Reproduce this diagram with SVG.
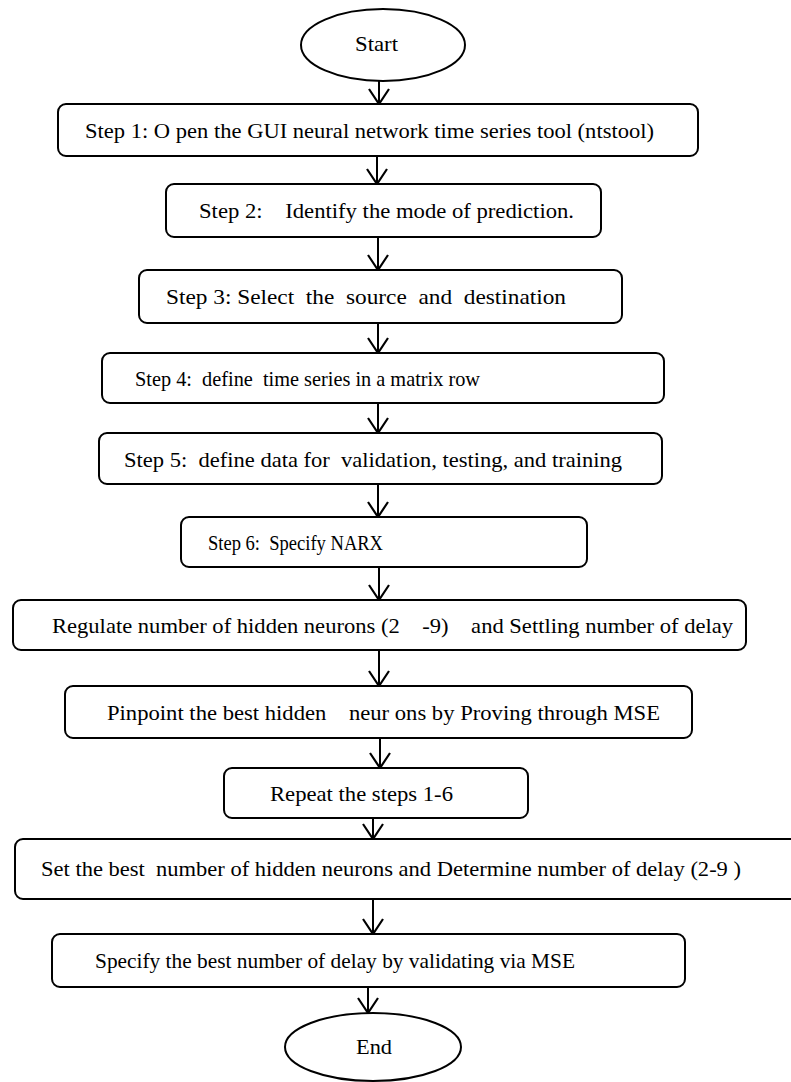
<svg xmlns="http://www.w3.org/2000/svg" width="791" height="1082" viewBox="0 0 791 1082">
  <style>
    .box { fill: #ffffff; stroke: #000000; stroke-width: 2; }
    .term { fill: #ffffff; stroke: #000000; stroke-width: 2; }
    .lbl { font-family: "Liberation Serif", Tinos, "Noto Serif", "DejaVu Serif", FreeSerif, Times, serif; font-size: 22px; fill: #000000; white-space: pre; }
    .conn { stroke: #000000; stroke-width: 2; fill: none; marker-end: url(#vhead); }
  </style>
  <defs>
    <marker id="vhead" markerUnits="userSpaceOnUse" markerWidth="30" markerHeight="30" refX="0" refY="0" orient="auto" overflow="visible">
      <path d="M-15,-10 L0,0 L-15,10" fill="none" stroke="#000000" stroke-width="2.2" stroke-linejoin="miter"/>
    </marker>
  </defs>
  <rect width="791" height="1082" fill="#ffffff"/>

  <!-- connectors -->
  <g id="connectors">
    <line class="conn" x1="379" y1="81" x2="379" y2="104"/>
    <line class="conn" x1="377" y1="156" x2="377" y2="184"/>
    <line class="conn" x1="378" y1="237" x2="378" y2="270"/>
    <line class="conn" x1="378" y1="323" x2="378" y2="353"/>
    <line class="conn" x1="378" y1="403" x2="378" y2="433"/>
    <line class="conn" x1="378" y1="484" x2="378" y2="517"/>
    <line class="conn" x1="379" y1="567" x2="379" y2="600"/>
    <line class="conn" x1="379" y1="650" x2="379" y2="686"/>
    <line class="conn" x1="380" y1="738" x2="380" y2="768"/>
    <line class="conn" x1="373" y1="818" x2="373" y2="839"/>
    <line class="conn" x1="373" y1="899" x2="373" y2="934"/>
    <line class="conn" x1="368" y1="987" x2="368" y2="1013"/>
  </g>

  <g id="start">
    <ellipse class="term" cx="383" cy="45" rx="82" ry="36"/>
    <text class="lbl" x="355" y="51" textLength="43" lengthAdjust="spacingAndGlyphs">Start</text>
  </g>

  <g id="step1">
    <rect class="box" x="58" y="104" width="640" height="52" rx="8"/>
    <text class="lbl" x="85" y="138" textLength="569" lengthAdjust="spacingAndGlyphs">Step 1: O pen the GUI neural network time series tool (ntstool)</text>
  </g>

  <g id="step2">
    <rect class="box" x="166" y="184" width="435" height="53" rx="8"/>
    <text class="lbl" x="199" y="218" textLength="375" lengthAdjust="spacingAndGlyphs">Step 2:    Identify the mode of prediction.</text>
  </g>

  <g id="step3">
    <rect class="box" x="139" y="270" width="483" height="53" rx="8"/>
    <text class="lbl" x="166" y="304" textLength="400" lengthAdjust="spacingAndGlyphs">Step 3: Select  the  source  and  destination</text>
  </g>

  <g id="step4">
    <rect class="box" x="102" y="353" width="562" height="50" rx="8"/>
    <text class="lbl" x="135" y="386" textLength="345" lengthAdjust="spacingAndGlyphs">Step 4:  define  time series in a matrix row</text>
  </g>

  <g id="step5">
    <rect class="box" x="99" y="433" width="563" height="51" rx="8"/>
    <text class="lbl" x="124" y="467" textLength="498" lengthAdjust="spacingAndGlyphs">Step 5:  define data for  validation, testing, and training</text>
  </g>

  <g id="step6">
    <rect class="box" x="181" y="517" width="406" height="50" rx="8"/>
    <text class="lbl" x="208" y="550" textLength="175" lengthAdjust="spacingAndGlyphs">Step 6:  Specify NARX</text>
  </g>

  <g id="regulate">
    <rect class="box" x="13" y="600" width="733" height="50" rx="8"/>
    <text class="lbl" x="52" y="633" textLength="681" lengthAdjust="spacingAndGlyphs">Regulate number of hidden neurons (2    -9)    and Settling number of delay</text>
  </g>

  <g id="pinpoint">
    <rect class="box" x="65" y="686" width="627" height="52" rx="8"/>
    <text class="lbl" x="107" y="720" textLength="553" lengthAdjust="spacingAndGlyphs">Pinpoint the best hidden    neur ons by Proving through MSE</text>
  </g>

  <g id="repeat">
    <rect class="box" x="224" y="768" width="304" height="50" rx="8"/>
    <text class="lbl" x="270" y="801" textLength="183" lengthAdjust="spacingAndGlyphs">Repeat the steps 1-6</text>
  </g>

  <g id="setbest">
    <rect class="box" x="15" y="839" width="800" height="60" rx="8"/>
    <text class="lbl" x="41" y="876" textLength="700" lengthAdjust="spacingAndGlyphs">Set the best  number of hidden neurons and Determine number of delay (2-9 )</text>
  </g>

  <g id="specify">
    <rect class="box" x="52" y="934" width="633" height="53" rx="8"/>
    <text class="lbl" x="95" y="968" textLength="480" lengthAdjust="spacingAndGlyphs">Specify the best number of delay by validating via MSE</text>
  </g>

  <g id="end">
    <ellipse class="term" cx="373" cy="1047" rx="88" ry="34"/>
    <text class="lbl" x="356" y="1054" textLength="36" lengthAdjust="spacingAndGlyphs">End</text>
  </g>
</svg>
